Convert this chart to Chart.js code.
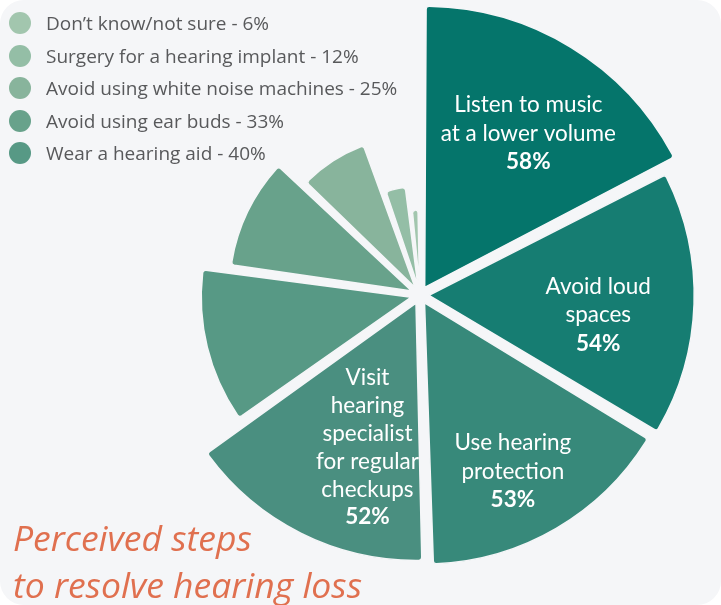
<!DOCTYPE html>
<html lang="en">
<head>
    <meta charset="UTF-8">
    <title>Perceived steps to resolve hearing loss</title>
    <script src="https://cdn.jsdelivr.net/npm/chart.js"></script>
    <style>
        body {
            margin: 0;
            background: #ffffff;
            font-family: "Open Sans", sans-serif;
        }
        .card {
            position: relative;
            width: 721px;
            height: 605px;
            background: #f5f6f8;
            border-radius: 24px;
            overflow: hidden;
        }
        canvas {
            position: absolute;
            left: 0;
            top: 0;
        }
        .legend {
            position: absolute;
            left: 9px;
            top: 7px;
            margin: 0;
            padding: 0;
            list-style: none;
        }
        .legend li {
            display: flex;
            align-items: center;
            height: 32.5px;
            font-size: 19px;
            color: #58595b;
        }
        .legend span.dot {
            width: 22px;
            height: 22px;
            border-radius: 50%;
            margin-right: 15px;
        }
        .title {
            position: absolute;
            left: 13px;
            top: 514px;
            font-size: 35.5px;
            font-style: italic;
            line-height: 47px;
            color: #e0704f;
            white-space: nowrap;
        }
    </style>
</head>
<body>

    <div class="card">
        <canvas id="stepsChart" width="721" height="605"></canvas>
        <ul class="legend" id="legend"></ul>
        <div class="title">Perceived steps<br>to resolve hearing loss</div>
    </div>

    <script>
        // clockwise from 12 o'clock
        const categories = [
            "Listen to music at a lower volume",
            "Avoid loud spaces",
            "Use hearing protection",
            "Visit hearing specialist for regular checkups",
            "Wear a hearing aid",
            "Avoid using ear buds",
            "Avoid using white noise machines",
            "Surgery for a hearing implant",
            "Don’t know/not sure"
        ];
        const values = [58, 54, 53, 52, 40, 33, 25, 12, 6];
        const colors = [
            "#05756b", "#167d72", "#37897a", "#4a8f80", "#579985",
            "#68a28b", "#88b49c", "#94bea6", "#a2c6ae"
        ];

        // text written inside the big slices (percentage is added below)
        const sliceText = [
            ["Listen to music", "at a lower volume"],
            ["Avoid loud", "spaces"],
            ["Use hearing", "protection"],
            ["Visit", "hearing", "specialist", "for regular", "checkups"],
            null, null, null, null, null
        ];
        // where the text sits: fraction of slice radius, angle shift in degrees
        const textPlace = [
            { rf: 0.715, da: 2.5 },
            { rf: 0.70, da: 4.5 },
            { rf: 0.79, da: 2.5 },
            { rf: 0.65, da: -7.5 }
        ];

        const legendOrder = [8, 7, 6, 5, 4];

        const total = values.reduce((a, b) => a + b, 0);

        const legend = document.getElementById("legend");
        legendOrder.forEach(function (i) {
            const li = document.createElement("li");
            const dot = document.createElement("span");
            dot.className = "dot";
            dot.style.background = colors[i];
            li.appendChild(dot);
            li.appendChild(document.createTextNode(categories[i] + " - " + values[i] + "%"));
            legend.appendChild(li);
        });

        const sliceLabels = {
            id: "sliceLabels",
            afterDatasetsDraw(chart) {
                const ctx = chart.ctx;
                const arcs = chart.getDatasetMeta(0).data;
                ctx.save();
                ctx.fillStyle = "#ffffff";
                ctx.textAlign = "center";
                ctx.textBaseline = "middle";
                sliceText.forEach(function (lines, i) {
                    if (!lines) return;
                    const arc = arcs[i];
                    const p = textPlace[i];
                    const a = (arc.startAngle + arc.endAngle) / 2 + p.da * Math.PI / 180;
                    const r = arc.outerRadius * p.rf;
                    const cx = arc.x + Math.cos(a) * r;
                    const cy = arc.y + Math.sin(a) * r;
                    const all = lines.concat([values[i] + "%"]);
                    const lh = lines.length > 2 ? 27.8 : 28.5;
                    all.forEach(function (t, j) {
                        const last = j === all.length - 1;
                        ctx.font = (last ? "bold " : "") + "22.5px Lato";
                        ctx.fillText(t, cx, cy + (j - (all.length - 1) / 2) * lh);
                    });
                });
                ctx.restore();
            }
        };

        new Chart(document.getElementById("stepsChart"), {
            type: "polarArea",
            data: {
                labels: categories,
                datasets: [{
                    data: values,
                    backgroundColor: colors,
                    borderColor: "#f5f6f8",
                    borderWidth: 1.5,
                    borderRadius: { outerStart: 3, outerEnd: 3, innerStart: 0, innerEnd: 0 },
                    offset: 36,
                    angle: function (ctx) {
                        return values[ctx.dataIndex] / total * 360;
                    },
                    clip: false
                }]
            },
            options: {
                responsive: false,
                animation: false,
                events: [],
                layout: {
                    padding: { left: 148, right: 29, top: 23, bottom: 38 }
                },
                scales: {
                    r: {
                        display: false,
                        min: -11,
                        max: 58,
                        beginAtZero: false,
                        startAngle: 0
                    }
                },
                plugins: {
                    legend: { display: false },
                    tooltip: { enabled: false }
                }
            },
            plugins: [sliceLabels]
        });
    </script>

</body>
</html>
